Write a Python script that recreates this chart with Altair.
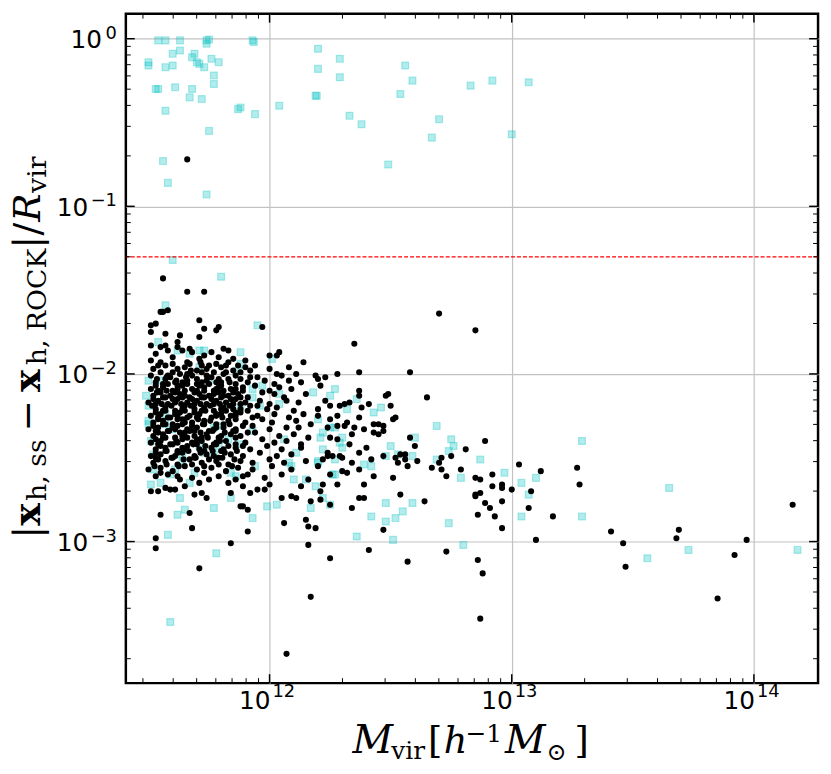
import altair as alt
import pandas as pd
import numpy as np

# ---------------- data: (log10 Mvir, log10 offset) ----------------
cyan_upper = [
    (11.54, -0.01), (11.57, -0.01), (11.63, -0.01), (11.74, -0.01), (11.75, -0.005), (11.74, -0.03),
    (11.93, -0.01), (11.935, -0.02), (11.63, -0.07), (11.60, -0.09), (11.69, -0.09), (11.68, -0.11),
    (11.76, -0.12), (11.50, -0.14), (11.50, -0.16), (11.70, -0.14), (11.71, -0.15), (11.79, -0.14),
    (11.60, -0.16), (11.57, -0.17), (11.73, -0.17), (11.77, -0.22), (11.77, -0.27), (11.61, -0.29),
    (11.53, -0.30), (11.54, -0.30), (11.68, -0.30), (11.67, -0.35), (11.72, -0.36), (11.57, -0.43),
    (11.87, -0.42), (11.88, -0.41), (11.94, -0.45), (11.75, -0.55), (11.56, -0.73), (11.58, -0.86),
    (11.74, -0.93), (12.20, -0.06), (12.29, -0.12), (12.20, -0.18), (12.29, -0.23), (12.19, -0.34),
    (12.195, -0.34), (12.04, -0.40), (12.33, -0.46), (12.38, -0.51), (12.56, -0.16), (12.59, -0.25),
    (12.54, -0.33), (12.70, -0.48), (12.67, -0.59), (12.49, -0.75), (12.83, -0.28), (12.92, -0.25),
    (13.07, -0.26), (13.00, -0.57),
    (11.60, -1.32), (11.80, -1.42), (11.57, -1.59), (11.95, -1.71),
]

cyan_blob = [
    (11.54, -1.81), (11.62, -1.86), (11.67, -1.88), (11.71, -1.86), (11.73, -1.86), (11.88, -1.87),
    (12.01, -1.91), (11.88, -1.94), (11.87, -1.98), (11.93, -2.09), (11.93, -2.14), (11.96, -2.19),
    (11.97, -2.07), (12.18, -2.11), (12.20, -2.27), (12.04, -2.18), (12.04, -2.12), (12.25, -2.32),
    (12.27, -2.32), (12.30, -2.44), (12.29, -2.41), (11.50, -2.28), (11.50, -2.30), (11.49, -2.13),
    (11.50, -2.19), (11.51, -2.40), (11.52, -2.48), (11.50, -2.04), (11.55, -2.04), (11.57, -2.24),
    (11.57, -2.30), (11.60, -2.33), (11.71, -1.96), (11.75, -2.04), (11.79, -2.10), (11.77, -2.32),
    (11.79, -2.31), (11.83, -2.18), (11.88, -2.20), (11.71, -2.43), (11.73, -2.47), (11.77, -2.48),
    (11.79, -2.43), (11.84, -2.59), (11.86, -2.61), (11.94, -2.55), (11.88, -2.42), (12.09, -2.55),
    (12.11, -2.47), (11.52, -2.57), (11.64, -2.48), (11.64, -2.52), (11.69, -2.59), (12.06, -2.39),
    (11.93, -2.34), (11.83, -2.39), (12.27, -2.09), (12.25, -2.13), (12.36, -2.15), (12.32, -2.21),
    (12.43, -2.23), (12.46, -2.20),
]

cyan_lower = [
    (11.51, -2.66), (11.55, -2.65), (11.63, -2.74), (11.65, -2.81), (11.62, -2.84), (11.58, -2.96),
    (11.77, -2.80), (11.78, -3.07), (11.84, -2.74), (11.93, -2.86), (11.99, -2.79), (12.03, -2.78),
    (12.17, -2.80), (12.10, -2.63), (12.15, -2.63), (12.19, -2.67), (11.67, -2.65), (11.59, -2.60),
    (11.61, -2.57), (12.08, -2.53), (12.20, -2.53), (11.59, -3.48),
    (12.69, -2.31), (12.60, -2.38), (12.75, -2.39), (12.76, -2.43), (12.74, -2.46), (12.50, -2.43),
    (12.22, -2.35), (12.21, -2.38), (12.22, -2.45), (12.30, -2.38), (12.27, -2.51), (12.20, -2.52),
    (12.39, -2.54), (12.42, -2.55), (12.48, -2.49), (12.53, -2.48), (12.59, -2.49), (12.69, -2.51),
    (12.27, -2.60), (12.26, -2.60), (12.79, -2.62), (12.87, -2.51), (12.97, -2.59), (12.48, -2.77),
    (12.59, -2.77), (12.55, -2.82), (12.52, -2.86), (12.48, -2.88), (12.42, -2.85), (12.74, -2.89),
    (12.36, -2.97), (12.51, -2.99), (12.80, -3.02), (12.25, -2.78), (12.22, -2.74),
    (13.04, -2.65), (13.10, -2.62), (13.07, -2.72), (13.04, -2.85), (13.29, -2.40), (13.29, -2.85),
    (13.65, -2.68), (13.73, -3.05), (13.56, -3.10), (14.18, -3.05),
]

black_fringe = [
    (11.66, -0.72),
    (11.56, -1.43), (11.66, -1.51), (11.73, -1.51), (11.55, -1.63), (11.58, -1.62), (11.56, -1.63),
    (11.53, -1.70), (11.51, -1.71), (11.51, -1.75), (11.57, -1.76), (11.71, -1.68), (11.73, -1.73),
    (11.79, -1.72), (11.78, -1.74), (11.97, -1.72), (11.63, -1.77), (11.71, -1.78), (11.62, -1.81),
    (11.51, -1.83), (11.57, -1.83), (11.58, -1.86), (11.76, -1.87), (11.81, -1.85), (11.83, -1.86),
    (12.00, -1.89), (12.04, -1.87), (12.03, -1.89), (12.14, -1.93), (11.51, -1.92), (11.67, -1.85),
    (11.68, -1.87), (11.71, -1.91), (11.54, -1.95), (11.60, -1.94), (11.66, -1.93), (11.67, -1.94),
    (11.72, -1.95), (11.75, -1.95), (11.78, -1.94), (11.82, -1.95), (11.90, -1.96), (11.92, -1.98),
    (12.03, -2.00), (12.19, -2.01), (12.28, -2.00), (12.37, -1.99), (12.58, -1.99), (12.20, -2.03),
    (12.23, -2.02), (12.35, -1.82), (12.70, -1.64), (12.85, -1.74),
    (11.53, -1.88), (11.60, -1.90), (11.64, -1.86), (11.73, -1.89), (11.79, -1.90), (11.85, -1.91),
    (11.90, -1.92), (11.55, -1.84), (11.62, -1.84),
]

black_blob = [
    (11.52, -1.97), (11.57, -1.95), (11.62, -1.97), (11.65, -1.96), (11.70, -1.98), (11.74, -1.97),
    (11.80, -1.96), (11.85, -1.98), (11.94, -1.95), (12.00, -1.97), (12.08, -1.96),
    (11.51, -2.01), (11.55, -1.99), (11.59, -2.02), (11.63, -2.00), (11.68, -2.01), (11.72, -1.99),
    (11.76, -2.02), (11.81, -2.00), (11.86, -2.01), (11.88, -1.99), (11.95, -2.02), (12.05, -2.01),
    (12.11, -2.00),
    (11.53, -2.05), (11.57, -2.03), (11.61, -2.05), (11.66, -2.04), (11.70, -2.06), (11.74, -2.04),
    (11.78, -2.05), (11.83, -2.03), (11.91, -2.05), (11.98, -2.04), (12.02, -2.06), (12.08, -2.04),
    (12.13, -2.05),
    (11.51, -2.09), (11.56, -2.08), (11.60, -2.10), (11.64, -2.07), (11.68, -2.09), (11.73, -2.08),
    (11.77, -2.10), (11.80, -2.07), (11.84, -2.09), (11.89, -2.08), (12.00, -2.10), (12.04, -2.08),
    (12.09, -2.09),
    (11.52, -2.13), (11.55, -2.11), (11.59, -2.13), (11.63, -2.12), (11.67, -2.14), (11.71, -2.12),
    (11.75, -2.13), (11.79, -2.11), (11.83, -2.13), (11.87, -2.12), (11.91, -2.14), (12.02, -2.12),
    (12.06, -2.14), (12.15, -2.12),
    (11.50, -2.17), (11.54, -2.16), (11.58, -2.18), (11.62, -2.15), (11.66, -2.17), (11.70, -2.16),
    (11.74, -2.18), (11.78, -2.16), (11.82, -2.17), (11.86, -2.15), (11.90, -2.17), (11.96, -2.16),
    (12.00, -2.18), (12.07, -2.16), (12.12, -2.17),
    (11.53, -2.21), (11.57, -2.20), (11.61, -2.22), (11.65, -2.19), (11.69, -2.21), (11.73, -2.20),
    (11.77, -2.22), (11.81, -2.20), (11.85, -2.21), (11.92, -2.19), (11.99, -2.21), (12.03, -2.20),
    (12.10, -2.22),
    (11.51, -2.25), (11.55, -2.24), (11.59, -2.26), (11.63, -2.23), (11.67, -2.25), (11.71, -2.24),
    (11.76, -2.26), (11.80, -2.24), (11.84, -2.25), (11.88, -2.23), (11.95, -2.25), (12.02, -2.24),
    (12.08, -2.26), (12.14, -2.24),
    (11.52, -2.29), (11.56, -2.28), (11.60, -2.30), (11.64, -2.27), (11.68, -2.29), (11.73, -2.28),
    (11.78, -2.30), (11.83, -2.28), (11.90, -2.29), (11.97, -2.27), (12.01, -2.29), (12.11, -2.28),
    (11.50, -2.33), (11.54, -2.32), (11.58, -2.34), (11.62, -2.31), (11.66, -2.33), (11.70, -2.32),
    (11.75, -2.34), (11.81, -2.32), (11.86, -2.33), (11.93, -2.31), (12.00, -2.33), (12.07, -2.32),
    (11.52, -2.37), (11.56, -2.36), (11.61, -2.38), (11.65, -2.35), (11.69, -2.37), (11.74, -2.36),
    (11.79, -2.38), (11.84, -2.36), (11.88, -2.37), (11.94, -2.35), (12.04, -2.37), (12.10, -2.36),
    (12.16, -2.38),
    (11.51, -2.41), (11.55, -2.40), (11.59, -2.42), (11.64, -2.39), (11.68, -2.41), (11.72, -2.40),
    (11.77, -2.42), (11.82, -2.40), (11.90, -2.41), (11.97, -2.39), (12.02, -2.41), (12.07, -2.40),
    (12.13, -2.42),
    (11.53, -2.45), (11.57, -2.44), (11.62, -2.46), (11.66, -2.43), (11.71, -2.45), (11.76, -2.44),
    (11.80, -2.46), (11.86, -2.44), (11.92, -2.45), (11.99, -2.43), (12.05, -2.45), (12.13, -2.44),
    (11.51, -2.49), (11.55, -2.48), (11.60, -2.50), (11.64, -2.47), (11.69, -2.49), (11.74, -2.48),
    (11.79, -2.50), (11.84, -2.48), (11.89, -2.49), (11.96, -2.47), (12.03, -2.49), (12.09, -2.48),
    (11.52, -2.53), (11.57, -2.52), (11.62, -2.54), (11.67, -2.51), (11.72, -2.53), (11.78, -2.52),
    (11.83, -2.54), (11.88, -2.52), (11.93, -2.53), (12.00, -2.51), (12.06, -2.53), (12.15, -2.52),
    (11.50, -2.57), (11.55, -2.56), (11.60, -2.58), (11.65, -2.55), (11.70, -2.57), (11.76, -2.56),
    (11.82, -2.58), (11.87, -2.56), (11.93, -2.57), (12.01, -2.55), (12.09, -2.57),
    (11.53, -2.61), (11.58, -2.60), (11.68, -2.62), (11.73, -2.59), (11.91, -2.60), (11.98, -2.62),
    (12.05, -2.60),
]

black_core = [
    (11.55, -1.93), (11.60, -1.99), (11.675, -1.98), (11.715, -1.93), (11.77, -1.99), (11.83, -1.93),
    (11.87, -1.95),
    (11.535, -2.03), (11.575, -2.02), (11.615, -2.04), (11.655, -2.02), (11.70, -2.03), (11.745, -2.02),
    (11.79, -2.03), (11.835, -2.05), (11.88, -2.03), (11.92, -2.02),
    (11.53, -2.07), (11.58, -2.06), (11.62, -2.07), (11.66, -2.06), (11.71, -2.07), (11.75, -2.06),
    (11.79, -2.08), (11.86, -2.06), (11.94, -2.07),
    (11.535, -2.11), (11.575, -2.10), (11.61, -2.11), (11.65, -2.10), (11.69, -2.11), (11.73, -2.10),
    (11.77, -2.12), (11.81, -2.10), (11.85, -2.11), (11.89, -2.10), (11.97, -2.11),
    (11.52, -2.15), (11.56, -2.14), (11.60, -2.15), (11.64, -2.14), (11.68, -2.15), (11.72, -2.14),
    (11.76, -2.15), (11.80, -2.14), (11.84, -2.15), (11.88, -2.14),
    (11.515, -2.19), (11.555, -2.18), (11.595, -2.19), (11.635, -2.18), (11.675, -2.19), (11.715, -2.18),
    (11.755, -2.19), (11.795, -2.18), (11.835, -2.19), (11.88, -2.18), (11.95, -2.19),
    (11.53, -2.23), (11.57, -2.22), (11.61, -2.24), (11.65, -2.22), (11.69, -2.23), (11.735, -2.22),
    (11.78, -2.24), (11.82, -2.22), (11.86, -2.23), (11.91, -2.22),
    (11.54, -2.27), (11.58, -2.26), (11.62, -2.27), (11.66, -2.26), (11.705, -2.27), (11.755, -2.28),
    (11.805, -2.26), (11.86, -2.27), (11.93, -2.26),
    (11.52, -2.31), (11.56, -2.30), (11.60, -2.32), (11.64, -2.30), (11.68, -2.31), (11.725, -2.30),
    (11.78, -2.32), (11.835, -2.30), (11.89, -2.31),
    (11.54, -2.35), (11.585, -2.34), (11.63, -2.35), (11.67, -2.34), (11.715, -2.35), (11.765, -2.34),
    (11.815, -2.35), (11.86, -2.34), (11.91, -2.35),
    (11.53, -2.39), (11.57, -2.38), (11.615, -2.40), (11.66, -2.38), (11.70, -2.39), (11.745, -2.38),
    (11.795, -2.40), (11.86, -2.38),
    (11.55, -2.43), (11.60, -2.42), (11.64, -2.44), (11.685, -2.42), (11.735, -2.43), (11.78, -2.42),
    (11.83, -2.43), (11.89, -2.43),
    (11.53, -2.47), (11.575, -2.46), (11.62, -2.47), (11.665, -2.46), (11.715, -2.47), (11.765, -2.46),
    (11.815, -2.47), (11.865, -2.46),
    (11.54, -2.51), (11.595, -2.50), (11.645, -2.51), (11.695, -2.50), (11.75, -2.51), (11.805, -2.50),
    (11.855, -2.51),
    (11.525, -2.55), (11.575, -2.54), (11.625, -2.55), (11.68, -2.54), (11.73, -2.55), (11.79, -2.54),
    (11.845, -2.55),
]

black_dense = [
    (11.58, -2.01), (11.66, -2.00), (11.74, -2.01), (11.82, -1.99),
    (11.56, -2.06), (11.64, -2.05), (11.72, -2.05), (11.80, -2.05),
    (11.54, -2.10), (11.62, -2.09), (11.70, -2.10), (11.78, -2.09), (11.86, -2.09),
    (11.57, -2.14), (11.65, -2.13), (11.73, -2.14), (11.81, -2.13),
    (11.53, -2.18), (11.61, -2.17), (11.69, -2.18), (11.77, -2.18), (11.85, -2.18),
    (11.56, -2.22), (11.64, -2.21), (11.72, -2.22), (11.80, -2.21), (11.88, -2.21),
    (11.54, -2.26), (11.62, -2.25), (11.70, -2.26), (11.78, -2.25), (11.86, -2.25),
    (11.57, -2.30), (11.65, -2.29), (11.73, -2.30), (11.81, -2.30),
    (11.53, -2.34), (11.61, -2.33), (11.69, -2.34), (11.77, -2.33), (11.85, -2.34),
    (11.56, -2.38), (11.64, -2.37), (11.72, -2.38), (11.80, -2.37),
    (11.54, -2.42), (11.62, -2.41), (11.70, -2.42), (11.78, -2.41), (11.86, -2.42),
    (11.57, -2.46), (11.65, -2.45), (11.73, -2.46), (11.81, -2.45),
    (11.53, -2.50), (11.61, -2.49), (11.69, -2.50), (11.77, -2.49),
]

black_lower = [
    (11.51, -2.70), (11.54, -2.70), (11.57, -2.68), (11.59, -2.69), (11.61, -2.69), (11.55, -2.84),
    (11.68, -2.92), (11.53, -2.98), (11.53, -3.04), (11.69, -2.72), (11.72, -2.71), (11.71, -3.16),
    (11.84, -3.01), (11.84, -2.71), (11.88, -2.79), (11.89, -2.79), (11.91, -2.81), (11.91, -2.94),
    (11.95, -2.69), (11.98, -2.69), (12.00, -2.66), (12.06, -2.89), (12.05, -2.74), (12.09, -2.73),
    (12.11, -2.74), (12.15, -2.87), (12.16, -2.91), (12.19, -2.92), (12.17, -2.76), (12.13, -2.67),
    (11.62, -2.61), (11.63, -2.63), (11.65, -2.67), (11.74, -2.74), (11.71, -2.65), (11.75, -2.63),
    (11.79, -2.61), (11.83, -2.65), (11.86, -2.63), (11.89, -2.61), (11.89, -2.67), (11.92, -2.71),
    (11.67, -2.83), (11.55, -2.59),
]

black_mid = [
    (12.21, -2.07), (12.65, -2.14), (12.37, -2.10), (12.37, -2.13), (12.33, -2.17), (12.31, -2.18),
    (12.29, -2.19), (12.25, -2.19), (12.23, -2.16), (12.38, -2.20), (12.41, -2.18), (12.48, -2.13),
    (12.49, -2.12), (12.50, -2.19), (12.28, -2.25), (12.25, -2.27), (12.51, -2.27), (12.52, -2.26),
    (12.20, -2.21), (12.54, -2.48), (12.56, -2.48), (12.56, -2.51), (12.53, -2.53), (12.57, -2.55),
    (12.61, -2.52), (12.67, -2.56), (12.70, -2.53), (12.71, -2.50), (12.71, -2.57), (12.73, -2.61),
    (12.75, -2.49), (12.79, -2.57), (12.54, -2.72), (12.64, -2.76), (12.73, -3.06), (12.57, -3.12),
    (12.16, -3.02), (12.25, -3.10), (12.41, -3.05), (12.47, -2.93), (12.51, -2.62), (12.39, -2.66),
    (12.43, -2.61), (12.37, -2.74), (12.39, -2.74), (12.34, -2.80), (12.25, -2.78), (12.28, -2.66),
    (12.22, -2.66), (12.21, -2.70), (12.21, -2.75), (12.30, -2.58), (12.32, -2.59), (12.34, -2.53),
    (12.37, -2.57), (12.40, -2.44), (12.37, -2.47), (12.42, -2.51), (12.33, -2.42), (12.34, -2.36),
    (12.39, -2.33), (12.35, -2.32), (12.43, -2.30), (12.45, -2.30), (12.47, -2.31), (12.47, -2.34),
    (12.43, -2.35), (12.45, -2.36), (12.47, -2.49), (12.52, -2.50), (12.24, -2.32), (12.28, -2.31),
    (12.31, -2.31), (12.25, -2.38), (12.28, -2.39), (12.24, -2.47), (12.24, -2.49), (12.22, -2.51),
    (12.26, -2.49), (12.29, -2.49), (12.30, -2.50), (12.20, -2.55), (12.89, -2.40), (12.81, -2.45),
    (12.85, -2.73), (12.58, -2.38), (12.20, -2.25), (12.17, -2.30), (12.12, -2.32), (12.32, -2.29),
    (12.37, -2.26), (12.60, -2.43), (12.25, -2.60), (12.16, -2.63),
]

black_sparse = [
    (12.85, -2.62), (12.87, -2.63), (12.92, -2.60), (12.92, -2.67), (12.96, -2.66), (12.96, -2.68),
    (13.00, -2.69), (12.85, -2.72), (12.87, -2.71), (12.89, -2.77), (12.91, -2.80), (12.93, -2.85),
    (12.96, -2.76), (12.96, -2.92), (12.86, -2.84), (13.03, -2.54), (13.12, -2.58), (13.07, -2.80),
    (13.08, -2.70), (13.10, -2.99), (13.17, -2.85), (13.27, -2.56), (13.28, -2.66), (13.41, -2.94),
    (13.46, -3.01), (13.47, -3.15), (13.68, -2.98), (13.69, -2.93), (13.85, -3.34), (13.92, -3.08),
    (13.97, -2.99), (14.16, -2.78), (12.86, -3.11), (12.88, -3.19), (12.87, -3.46), (12.07, -3.67),
    (12.17, -3.33),
]

threshold = [0.05]

x_major = [1e12, 1e13, 1e14]
x_exp = ["12", "13", "14"]
x_minor = [3e11, 4e11, 5e11, 6e11, 7e11, 8e11, 9e11,
           2e12, 3e12, 4e12, 5e12, 6e12, 7e12, 8e12, 9e12,
           2e13, 3e13, 4e13, 5e13, 6e13, 7e13, 8e13, 9e13]
y_major = [1.0, 0.1, 0.01, 0.001]
y_exp = ["0", "\u22121", "\u22122", "\u22123"]
y_minor = [2e-4, 3e-4, 4e-4, 5e-4, 6e-4, 7e-4, 8e-4, 9e-4,
           2e-3, 3e-3, 4e-3, 5e-3, 6e-3, 7e-3, 8e-3, 9e-3,
           2e-2, 3e-2, 4e-2, 5e-2, 6e-2, 7e-2, 8e-2, 9e-2,
           0.2, 0.3, 0.4, 0.5, 0.6, 0.7, 0.8, 0.9]

# ---------------- build ----------------
W, H = 699, 676
xs = alt.Scale(type="log", domain=[2.55e11, 1.84e14], nice=False)
ys = alt.Scale(type="log", domain=[1.43e-4, 1.41], nice=False)


def frame(pts):
    a = np.array(pts, dtype=float)
    return pd.DataFrame({"M": 10 ** a[:, 0], "d": 10 ** a[:, 1]})


cyan_df = frame(cyan_upper + cyan_blob + cyan_lower)
black_df = frame(black_fringe + black_blob + black_core + black_dense + black_lower
                 + black_mid + black_sparse)

x_axis = alt.Axis(values=x_major, grid=True, gridColor="#c2c2c2", gridWidth=1.2, ticks=False,
                  domain=False, labels=False, title=None)
y_axis = alt.Axis(values=y_major, grid=True, gridColor="#c2c2c2", gridWidth=1.2, ticks=False,
                  domain=False, labels=False, title=None)

cyan_layer = alt.Chart(cyan_df).mark_point(
    shape="square", filled=True, size=48, fill="#00bfbf", fillOpacity=0.3,
    stroke="#00bfbf", strokeOpacity=0.3, strokeWidth=1.2
).encode(x=alt.X("M:Q", scale=xs, axis=x_axis), y=alt.Y("d:Q", scale=ys, axis=y_axis))

black_layer = alt.Chart(black_df).mark_circle(size=38, color="black", opacity=1).encode(
    x=alt.X("M:Q", scale=xs, axis=x_axis), y=alt.Y("d:Q", scale=ys, axis=y_axis))

red_line = alt.Chart(pd.DataFrame({"t": threshold})).mark_rule(
    color="#ff0000", strokeDash=[4, 2], strokeWidth=1.2
).encode(y=alt.Y("t:Q", scale=ys, axis=y_axis))


def ticks(vals, axis, side, length, width):
    base = alt.Chart(pd.DataFrame({"v": vals})).mark_rule(color="black", strokeWidth=width)
    if axis == "x":
        y0 = 0 if side == "top" else H
        y1 = length if side == "top" else H - length
        return base.encode(x=alt.X("v:Q", scale=xs, axis=x_axis), y=alt.value(y0), y2=alt.value(y1))
    x0 = 0 if side == "left" else W
    x1 = length if side == "left" else W - length
    return base.encode(y=alt.Y("v:Q", scale=ys, axis=y_axis), x=alt.value(x0), x2=alt.value(x1))


tick_layers = []
for side in ("top", "bottom"):
    tick_layers.append(ticks(x_major, "x", side, 9, 1.5))
    tick_layers.append(ticks(x_minor, "x", side, 5, 1.0))
for side in ("left", "right"):
    tick_layers.append(ticks(y_major, "y", side, 9, 1.5))
    tick_layers.append(ticks(y_minor, "y", side, 5, 1.0))

# tick labels: "10" with a smaller raised exponent, as in mathtext
lab_font = "DejaVu Sans"
xlab_df = pd.DataFrame({"v": x_major, "e": x_exp})
ylab_df = pd.DataFrame({"v": y_major, "e": y_exp})

x_ten = alt.Chart(xlab_df).mark_text(
    text="10", font=lab_font, fontSize=25, align="right", baseline="alphabetic", dx=1, color="black"
).encode(x=alt.X("v:Q", scale=xs, axis=x_axis), y=alt.value(H + 26))
x_pow = alt.Chart(xlab_df).mark_text(
    font=lab_font, fontSize=18, align="left", baseline="alphabetic", dx=3, color="black"
).encode(x=alt.X("v:Q", scale=xs, axis=x_axis), y=alt.value(H + 14), text="e:N")

y_ten_0 = alt.Chart(ylab_df.iloc[:1]).mark_text(
    text="10", font=lab_font, fontSize=25, align="right", baseline="alphabetic", dy=9.5, color="black"
).encode(y=alt.Y("v:Q", scale=ys, axis=y_axis), x=alt.value(-24))
y_ten_n = alt.Chart(ylab_df.iloc[1:]).mark_text(
    text="10", font=lab_font, fontSize=25, align="right", baseline="alphabetic", dy=9.5, color="black"
).encode(y=alt.Y("v:Q", scale=ys, axis=y_axis), x=alt.value(-38))
y_pow = alt.Chart(ylab_df).mark_text(
    font=lab_font, fontSize=18, align="right", baseline="alphabetic", dy=0, color="black"
).encode(y=alt.Y("v:Q", scale=ys, axis=y_axis), x=alt.value(-9), text="e:N")

one = pd.DataFrame({"k": [0]})


def piece(txt, px, py, size, style="normal", weight="normal", angle=0):
    return alt.Chart(one).mark_text(
        text=txt, font="DejaVu Serif", fontSize=size, fontStyle=style, fontWeight=weight,
        align="left", baseline="alphabetic", angle=angle, color="black"
    ).encode(x=alt.value(px - 127), y=alt.value(py - 10))


xt = [
    piece("M", 356, 757, 40, style="italic"),
    piece("vir", 395, 763, 25),
    piece("[", 432, 757, 37),
    piece("h", 448, 757, 37, style="italic"),
    piece("\u22121", 470, 745, 25),
    piece("M", 510, 757, 40, style="italic"),
    piece("\u2299", 552, 764, 24),
    piece("]", 580, 757, 37),
]
yt = [
    piece("|", 40, 540, 38, angle=270),
    piece("x", 40, 527, 38, weight="bold", angle=270),
    piece("h, ss", 46, 502, 27, angle=270),
    piece("\u2212", 40, 432, 38, angle=270),
    piece("x", 40, 392, 38, weight="bold", angle=270),
    piece("h, ROCK", 46, 365, 27, angle=270),
    piece("|", 40, 247, 38, angle=270),
    piece("/", 40, 234, 38, angle=270),
    piece("R", 40, 220, 38, style="italic", angle=270),
    piece("vir", 46, 191, 27, angle=270),
]

chart = alt.layer(
    cyan_layer, black_layer, red_line, *tick_layers,
    x_ten, x_pow, y_ten_0, y_ten_n, y_pow, *xt, *yt
).properties(
    width=W, height=H,
    autosize=alt.AutoSizeParams(type="none"),
    padding={"left": 119, "top": 2, "right": 5, "bottom": 88},
    background="white",
).configure_view(stroke="black", strokeWidth=2.5)

chart.save("out.html", embed_options={"renderer": "svg", "actions": False})
